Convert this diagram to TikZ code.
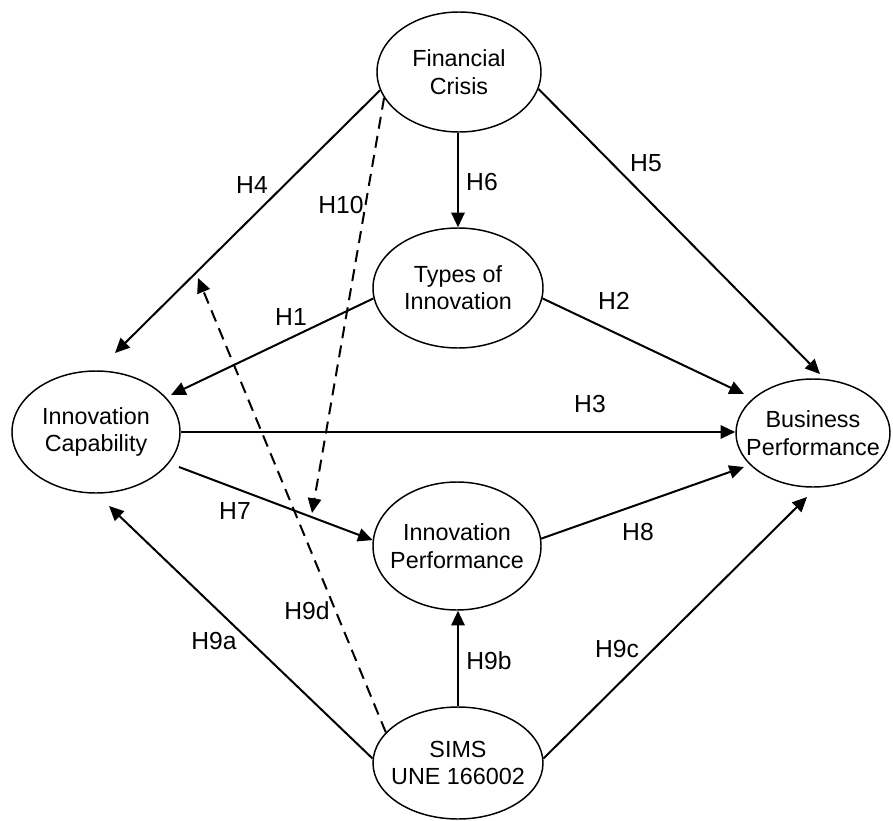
\documentclass[tikz,border=0pt]{standalone}
\usepackage{fontspec}
\setmainfont{Liberation Sans}
\usetikzlibrary{arrows.meta,shapes.geometric}
\begin{document}
\begin{tikzpicture}[x=0.75pt,y=-0.75pt,
  construct/.style={ellipse,draw,line width=1.1pt,inner sep=0pt},
  ctext/.style={font=\fontsize{17.5}{20.5}\selectfont,align=center,inner sep=0pt},
  hyp/.style={font=\fontsize{18.5}{22}\selectfont,inner sep=0pt},
  link/.style={line width=1.5pt,-{Triangle[length=11pt,width=10pt]}},
  moderation/.style={link,dash pattern=on 9pt off 5.5pt}]
\useasboundingbox (0,0) rectangle (893,821);

% constructs
\node[construct,minimum width=123pt,minimum height=90pt,
      label={[ctext]center:Financial\\Crisis}] (FC) at (459,72) {};
\node[construct,minimum width=127.5pt,minimum height=90pt,
      label={[ctext]center:Types of\\Innovation}] (TI) at (458,288) {};
\node[construct,minimum width=126pt,minimum height=91.5pt,
      label={[ctext]center:Innovation\\Capability}] (IC) at (96,432) {};
\node[construct,minimum width=115.5pt,minimum height=81pt,
      label={[ctext]center:Business\\Performance}] (BP) at (813,433) {};
\node[construct,minimum width=126pt,minimum height=96pt,
      label={[ctext]center:Innovation\\Performance}] (IP) at (457,546) {};
\node[construct,minimum width=127.5pt,minimum height=84pt,
      label={[ctext]center:SIMS\\UNE 166002}] (SIMS) at (458,763) {};

% free ends of the paths
\coordinate (t1) at (171,395);
\coordinate (t2) at (744,394);
\coordinate (t4) at (115,353);
\coordinate (t5) at (820,374);
\coordinate (s7) at (179,467);
\coordinate (t8) at (744,467);
\coordinate (t9a) at (109,506);
\coordinate (t9c) at (807,497);
\coordinate (t9d) at (198,278);
\coordinate (t10) at (312,513);

% direct effects
\draw[link] (FC.193) -- (t4);
\draw[link] (FC.348) -- (t5);
\draw[link] (FC.south -| TI.north) -- (TI.north);
\draw[link] (TI.187) -- (t1);
\draw[link] (TI.353) -- (t2);
\draw[link] (IC.east) -- (IC.east -| BP.west);
\draw[link] (s7) -- (IP.176);
\draw[link] (IP.5) -- (t8);
\draw[link] (SIMS.177) -- (t9a);
\draw[link] (SIMS.north) -- (SIMS.north |- IP.south);
\draw[link] (SIMS.3) -- (t9c);

% moderating effects
\draw[moderation] (FC.199) -- (t10);
\draw[moderation] (SIMS.157) -- (t9d);

% hypothesis labels
\node[hyp] (h1) at (291,317) {H1};
\node[hyp] (h2) at (614,301) {H2};
\node[hyp] (h3) at (590,404) {H3};
\node[hyp] (h4) at (252,185) {H4};
\node[hyp] (h5) at (646,163) {H5};
\node[hyp] (h6) at (482,182) {H6};
\node[hyp] (h7) at (235,511) {H7};
\node[hyp] (h8) at (638,532) {H8};
\node[hyp] (h9a) at (214,641) {H9a};
\node[hyp] (h9b) at (489,661) {H9b};
\node[hyp] (h9c) at (617,649) {H9c};
\node[hyp] (h9d) at (307,611) {H9d};
\node[hyp] (h10) at (341,205) {H10};
\end{tikzpicture}
\end{document}
